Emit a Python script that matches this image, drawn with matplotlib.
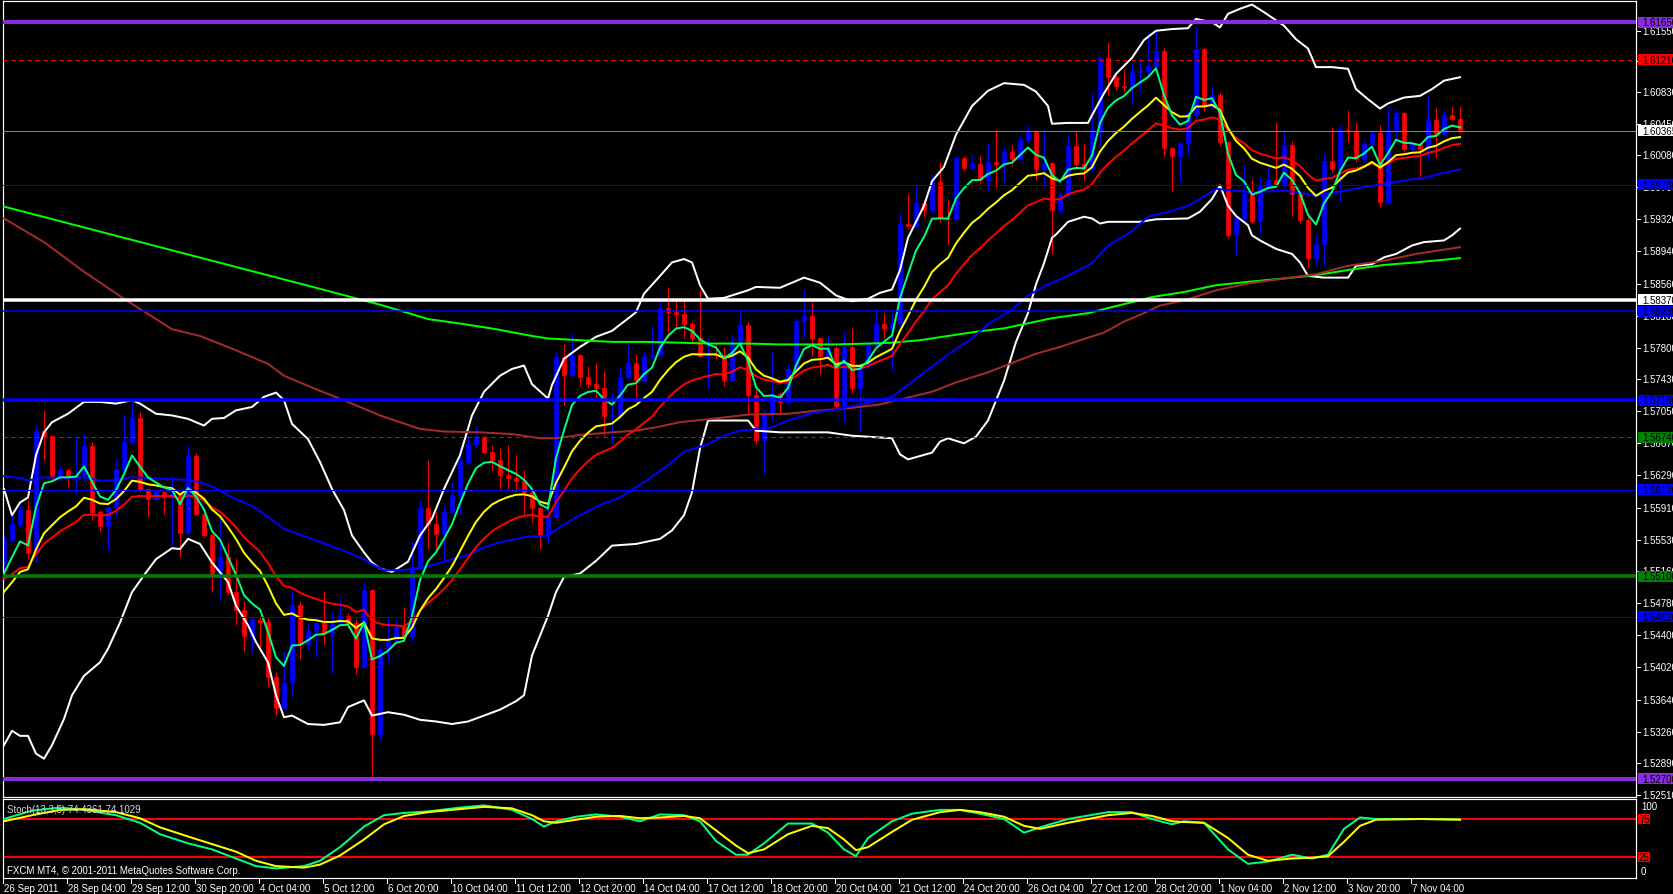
import numpy as np
import matplotlib
matplotlib.use("Agg")
import matplotlib.pyplot as plt
from matplotlib.collections import PolyCollection, LineCollection
from matplotlib.patches import Rectangle
from matplotlib.lines import Line2D
from matplotlib import transforms, font_manager


def has_font(name):
    try:
        font_manager.findfont(font_manager.FontProperties(family=name), fallback_to_default=False)
        return True
    except ValueError:
        return False


# narrow terminal-style lettering; fall back to a smaller regular sans
if has_font('Liberation Sans Narrow'):
    FONT, FS = 'Liberation Sans Narrow', 8
else:
    FONT, FS = 'Liberation Sans', 7
plt.rcParams['font.family'] = [FONT, 'DejaVu Sans']

# ---------------------------------------------------------------- data
# GBPUSD H4 bars, 26 Sep 2011 .. 8 Nov 2011
first_open = 1.5526
close = [
    1.5553, 1.5571, 1.5588, 1.5537, 1.5682, 1.5676, 1.5627, 1.5636, 1.5627, 1.5629,
    1.5664, 1.5586, 1.5569, 1.5592, 1.5635, 1.5668, 1.5697, 1.5613, 1.5601, 1.5609,
    1.5603, 1.5607, 1.5561, 1.5652, 1.5584, 1.5558, 1.5512, 1.5533, 1.5491, 1.5470,
    1.5439, 1.5458, 1.5456, 1.5391, 1.5354, 1.5383, 1.5476, 1.5430, 1.5445, 1.5454,
    1.5443, 1.5456, 1.5463, 1.5454, 1.5403, 1.5494, 1.5323, 1.5424, 1.5434, 1.5450,
    1.5438, 1.5521, 1.5590, 1.5572, 1.5560, 1.5586, 1.5606, 1.5645, 1.5666, 1.5674,
    1.5657, 1.5647, 1.5630, 1.5626, 1.5622, 1.5610, 1.5591, 1.5559, 1.5580, 1.5769,
    1.5748, 1.5772, 1.5745, 1.5737, 1.5732, 1.5699, 1.5700, 1.5745, 1.5762, 1.5742,
    1.5770, 1.5772, 1.5827, 1.5822, 1.5820, 1.5808, 1.5791, 1.5770, 1.5773, 1.5772,
    1.5742, 1.5787, 1.5807, 1.5724, 1.5671, 1.5702, 1.5725, 1.5716, 1.5755, 1.5812,
    1.5818, 1.5792, 1.5770, 1.5780, 1.5711, 1.5781, 1.5732, 1.5758, 1.5785, 1.5808,
    1.5803, 1.5809, 1.5927, 1.5924, 1.5951, 1.5943, 1.5976, 1.5934, 1.5932, 1.6005,
    1.5993, 1.5997, 1.5979, 1.6000, 1.5997, 1.6012, 1.6003, 1.6026, 1.6035, 1.5991,
    1.5998, 1.5943, 1.5961, 1.6019, 1.5997, 1.5991, 1.6038, 1.6123, 1.6100, 1.6090,
    1.6088, 1.6106, 1.6107, 1.6113, 1.6131, 1.6016, 1.6007, 1.6022, 1.6057, 1.6134,
    1.6066, 1.6079, 1.6023, 1.5913, 1.5934, 1.5962, 1.5930, 1.5971, 1.5978, 1.5974,
    1.6020, 1.5962, 1.5931, 1.5886, 1.5903, 1.6001, 1.5992, 1.6038, 1.6037, 1.6003,
    1.6021, 1.6034, 1.5953, 1.6038, 1.6058, 1.6015, 1.6021, 1.6015, 1.6049, 1.6033,
    1.6055, 1.6051, 1.60365,
]
high = [
    1.5560, 1.5582, 1.5594, 1.5599, 1.5689, 1.5706, 1.5672, 1.5641, 1.5638, 1.5674,
    1.5678, 1.5668, 1.5588, 1.5597, 1.5649, 1.5702, 1.5716, 1.5704, 1.5614, 1.5611,
    1.5610, 1.5629, 1.5607, 1.5665, 1.5655, 1.5574, 1.5561, 1.5578, 1.5550, 1.5531,
    1.5481, 1.5462, 1.5463, 1.5460, 1.5397, 1.5423, 1.5494, 1.5480, 1.5456, 1.5460,
    1.5492, 1.5468, 1.5484, 1.5466, 1.5459, 1.5502, 1.5495, 1.5428, 1.5460, 1.5459,
    1.5473, 1.5552, 1.5600, 1.5647, 1.5586, 1.5594, 1.5621, 1.5661, 1.5676, 1.5688,
    1.5676, 1.5665, 1.5661, 1.5665, 1.5653, 1.5635, 1.5613, 1.5593, 1.5593, 1.5775,
    1.5785, 1.5798, 1.5773, 1.5759, 1.5762, 1.5752, 1.5728, 1.5757, 1.5785, 1.5773,
    1.5775, 1.5806, 1.5840, 1.5852, 1.5836, 1.5836, 1.5812, 1.5848, 1.5792, 1.5783,
    1.5781, 1.5796, 1.5822, 1.5811, 1.5731, 1.5708, 1.5775, 1.5728, 1.5760, 1.5815,
    1.5848, 1.5834, 1.5793, 1.5795, 1.5782, 1.5800, 1.5804, 1.5762, 1.5787, 1.5825,
    1.5821, 1.5821, 1.5939, 1.5962, 1.5973, 1.5955, 1.5985, 1.6000, 1.5956, 1.6008,
    1.6007, 1.6008, 1.6007, 1.6022, 1.6038, 1.6019, 1.6020, 1.6032, 1.6043, 1.6036,
    1.6036, 1.6000, 1.5965, 1.6032, 1.6035, 1.6022, 1.6082, 1.6125, 1.6142, 1.6104,
    1.6108, 1.6117, 1.6123, 1.6152, 1.6155, 1.6135, 1.6016, 1.6025, 1.6060, 1.6161,
    1.6136, 1.6090, 1.6082, 1.6025, 1.5938, 1.5996, 1.5980, 1.5982, 1.5995, 1.6047,
    1.6037, 1.6025, 1.5966, 1.5935, 1.5915, 1.6010, 1.6041, 1.6045, 1.6061, 1.6047,
    1.6025, 1.6037, 1.6044, 1.6065, 1.6062, 1.6059, 1.6024, 1.6022, 1.6078, 1.6064,
    1.6061, 1.6066, 1.6066,
]
low = [
    1.5505, 1.5550, 1.5568, 1.5530, 1.5526, 1.5647, 1.5625, 1.5623, 1.5615, 1.5607,
    1.5623, 1.5576, 1.5563, 1.5541, 1.5580, 1.5633, 1.5666, 1.5609, 1.5580, 1.5600,
    1.5584, 1.5546, 1.5532, 1.5560, 1.5582, 1.5556, 1.5491, 1.5483, 1.5489, 1.5452,
    1.5421, 1.5420, 1.5422, 1.5379, 1.5346, 1.5353, 1.5369, 1.5412, 1.5422, 1.5414,
    1.5428, 1.5394, 1.5454, 1.5448, 1.5394, 1.5402, 1.5274, 1.5316, 1.5408, 1.5436,
    1.5436, 1.5432, 1.5519, 1.5542, 1.5542, 1.5527, 1.5586, 1.5582, 1.5641, 1.5661,
    1.5655, 1.5635, 1.5613, 1.5613, 1.5611, 1.5583, 1.5574, 1.5542, 1.5548, 1.5578,
    1.5712, 1.5745, 1.5735, 1.5732, 1.5722, 1.5676, 1.5667, 1.5698, 1.5743, 1.5722,
    1.5739, 1.5767, 1.5769, 1.5791, 1.5802, 1.5792, 1.5785, 1.5769, 1.5731, 1.5767,
    1.5735, 1.5741, 1.5785, 1.5700, 1.5666, 1.5631, 1.5694, 1.5700, 1.5712, 1.5750,
    1.5791, 1.5770, 1.5749, 1.5765, 1.5709, 1.5692, 1.5726, 1.5682, 1.5755, 1.5782,
    1.5791, 1.5753, 1.5805, 1.5922, 1.5920, 1.5935, 1.5939, 1.5929, 1.5901, 1.5930,
    1.5990, 1.5992, 1.5975, 1.5965, 1.5969, 1.5975, 1.5995, 1.6000, 1.6024, 1.5979,
    1.5971, 1.5891, 1.5939, 1.5958, 1.5995, 1.5977, 1.5988, 1.6019, 1.6079, 1.6085,
    1.6083, 1.6070, 1.6083, 1.6102, 1.6110, 1.6007, 1.5965, 1.5976, 1.6008, 1.6052,
    1.6060, 1.6062, 1.6020, 1.5910, 1.5890, 1.5930, 1.5928, 1.5915, 1.5968, 1.5970,
    1.5970, 1.5936, 1.5928, 1.5875, 1.5877, 1.5877, 1.5988, 1.5952, 1.6023, 1.6000,
    1.6000, 1.6018, 1.5946, 1.5950, 1.6025, 1.6012, 1.6012, 1.5982, 1.6001, 1.6004,
    1.6031, 1.6048, 1.6034,
]

# EMA(5), EMA(13), EMA(21) values carried in from the bar before the first one
ema_fast_prev, ema_mid_prev, ema_slow_prev = 1.5493, 1.5481, 1.5502

# Bollinger bands (20, 2): bar position, price
bb_up_bar = [0, 1, 2, 3, 4, 5, 6, 8, 10, 12, 14, 16, 17, 19, 21, 23, 25, 26, 27.5, 29, 31, 32.5, 34, 35, 36,
             38, 39.5, 41, 42.5, 43.5, 45, 46, 47, 48.5, 50.5, 52, 53.5, 55, 57, 58.5, 60, 62, 63.5, 65, 66,
             68, 68.5, 70, 72, 74, 76, 79, 80, 82, 83.5, 85, 86, 87, 88, 90, 91, 93, 94, 97, 98, 100, 102,
             104, 106, 108, 109.5, 111, 112, 113, 115, 116, 117.5, 119, 121, 123, 125, 127.5, 129, 130.5,
             131, 133, 135.5, 136, 137.5, 139, 141, 142.5, 144, 146, 148, 149, 151, 152, 153, 154.5, 156,
             157.5, 160, 161.5, 163, 164, 166, 168, 169, 170.5, 172, 173, 175, 177, 178.5, 180, 182]
bb_up = [1.5613, 1.5582, 1.5597, 1.5603, 1.5653, 1.5680, 1.5692, 1.5702, 1.5716, 1.5716, 1.5714, 1.5718,
         1.5714, 1.5702, 1.5700, 1.5696, 1.5688, 1.5696, 1.5697, 1.5706, 1.5710, 1.5722, 1.5727, 1.5718,
         1.5690, 1.5672, 1.5645, 1.5613, 1.5588, 1.5558, 1.5538, 1.5526, 1.5519, 1.5515, 1.5527, 1.5558,
         1.5578, 1.5613, 1.5653, 1.5700, 1.5728, 1.5747, 1.5755, 1.5759, 1.5737, 1.5720, 1.5736, 1.5767,
         1.5781, 1.5793, 1.5800, 1.5822, 1.5844, 1.5865, 1.5881, 1.5885, 1.5881, 1.5854, 1.5838, 1.5839,
         1.5842, 1.5848, 1.5852, 1.5851, 1.5855, 1.5863, 1.5857, 1.5842, 1.5835, 1.5838, 1.5845, 1.5849,
         1.5872, 1.5910, 1.5948, 1.5977, 1.5994, 1.6032, 1.6066, 1.6084, 1.6093, 1.6091, 1.6083, 1.6066,
         1.6045, 1.6046, 1.6046, 1.6055, 1.6081, 1.6104, 1.6123, 1.6144, 1.6155, 1.6157, 1.6158, 1.6169,
         1.6165, 1.6159, 1.6175, 1.6181, 1.6186, 1.6177, 1.6161, 1.6145, 1.6134, 1.6112, 1.6112, 1.6110,
         1.6086, 1.6074, 1.6063, 1.6069, 1.6076, 1.6078, 1.6086, 1.6096, 1.6100]
bb_dn_bar = [0, 1, 2, 3, 4, 5, 6, 7.5, 8.5, 10, 12, 13, 14.5, 16, 17.5, 19, 21, 22, 23, 24.5, 26, 28, 29,
             30.5, 31.5, 33, 34, 35, 36, 38, 40, 42, 43, 45, 46, 47, 48, 50, 52, 54, 56, 58, 60, 62, 64,
             65, 66, 68, 69, 70, 72, 74, 76, 79, 80, 82, 83.5, 85, 86, 87, 88, 93, 94, 97, 103, 106, 111,
             112, 113, 116, 117, 118, 120, 121.5, 123, 125, 126.5, 128, 129, 130, 131, 131.5, 133, 135,
             136, 137, 138, 142, 144, 148, 149.5, 151, 152, 153, 154, 155.5, 156, 157, 159, 161, 162, 163,
             165, 168, 169, 171, 172.5, 174, 176, 177.5, 180, 181, 182]
bb_dn = [1.5310, 1.5327, 1.5321, 1.5321, 1.5300, 1.5294, 1.5310, 1.5341, 1.5369, 1.5392, 1.5408, 1.5424,
         1.5455, 1.5491, 1.5511, 1.5530, 1.5543, 1.5542, 1.5554, 1.5548, 1.5526, 1.5503, 1.5475, 1.5452,
         1.5432, 1.5408, 1.5369, 1.5343, 1.5345, 1.5335, 1.5334, 1.5337, 1.5355, 1.5363, 1.5345, 1.5347,
         1.5349, 1.5346, 1.5340, 1.5338, 1.5335, 1.5338, 1.5345, 1.5352, 1.5362, 1.5369, 1.5416, 1.5463,
         1.5491, 1.5509, 1.5513, 1.5528, 1.5546, 1.5548, 1.5550, 1.5554, 1.5564, 1.5582, 1.5609, 1.5661,
         1.5694, 1.5694, 1.5682, 1.5680, 1.5680, 1.5676, 1.5673, 1.5654, 1.5648, 1.5656, 1.5669, 1.5673,
         1.5667, 1.5675, 1.5694, 1.5741, 1.5787, 1.5821, 1.5855, 1.5880, 1.5910, 1.5914, 1.5929, 1.5935,
         1.5933, 1.5927, 1.5929, 1.5929, 1.5932, 1.5933, 1.5941, 1.5956, 1.5972, 1.5948, 1.5936, 1.5925,
         1.5913, 1.5907, 1.5897, 1.5891, 1.5881, 1.5865, 1.5863, 1.5863, 1.5877, 1.5879, 1.5887, 1.5891,
         1.5901, 1.5905, 1.5907, 1.5913, 1.5921]

# EMA(55) - blue
ma55_bar = [0, 2, 3, 5, 8, 10, 12, 14, 16, 18, 20, 22.5, 24.5, 26.5, 28.5, 31, 33, 35, 37, 39, 41, 43, 45,
            46, 47.5, 49.5, 52.5, 55, 58, 59.5, 62, 65, 68, 69.5, 72, 74.5, 77, 80, 83, 85, 88, 90, 92, 96,
            98, 101, 104, 108, 111, 113, 116, 118, 121, 123, 126, 128, 130.5, 132.5, 136, 138, 141, 143,
            146, 148, 149.5, 151.5, 153.5, 156, 160, 163, 164, 166.5, 170, 172.5, 175, 178, 180, 182]
ma55 = [1.5628, 1.5626, 1.5623, 1.5627, 1.5626, 1.5627, 1.5623, 1.5623, 1.5627, 1.5626, 1.5625, 1.5624,
        1.5621, 1.5614, 1.5603, 1.5593, 1.5580, 1.5566, 1.5559, 1.5552, 1.5545, 1.5538, 1.5530, 1.5524,
        1.5517, 1.5517, 1.5520, 1.5527, 1.5535, 1.5542, 1.5550, 1.5556, 1.5558, 1.5568, 1.5582, 1.5594,
        1.5603, 1.5621, 1.5641, 1.5657, 1.5666, 1.5676, 1.5682, 1.5686, 1.5694, 1.5703, 1.5707, 1.5715,
        1.5722, 1.5736, 1.5758, 1.5772, 1.5791, 1.5808, 1.5825, 1.5842, 1.5855, 1.5863, 1.5880, 1.5901,
        1.5918, 1.5935, 1.5942, 1.5948, 1.5956, 1.5968, 1.5966, 1.5964, 1.5966, 1.5962, 1.5960, 1.5964,
        1.5970, 1.5974, 1.5978, 1.5982, 1.5987, 1.5991]

# SMA(200) - brown
ma200_bar = [0, 5, 10, 15, 21, 24.5, 28.5, 33, 35, 39, 43, 47, 49.5, 52, 55, 59.5, 63.5, 67, 69, 72, 76, 79,
             81.5, 84.5, 88.5, 93, 98, 101, 106, 109.5, 112.5, 116, 119, 123, 126, 129, 132, 135.5, 137.5,
             140, 142.5, 144.5, 147.5, 151.5, 155.5, 160, 164, 168, 172.5, 176.5, 182]
ma200 = [1.5933, 1.5905, 1.5870, 1.5838, 1.5802, 1.5794, 1.5779, 1.5761, 1.5747, 1.5731, 1.5716, 1.5700,
         1.5692, 1.5684, 1.5681, 1.5680, 1.5678, 1.5673, 1.5673, 1.5677, 1.5680, 1.5682, 1.5686, 1.5692,
         1.5696, 1.5701, 1.5702, 1.5705, 1.5709, 1.5713, 1.5720, 1.5728, 1.5739, 1.5751, 1.5762, 1.5773,
         1.5781, 1.5792, 1.5798, 1.5811, 1.5821, 1.5830, 1.5836, 1.5848, 1.5856, 1.5862, 1.5867, 1.5877,
         1.5883, 1.5891, 1.5899]

# EMA(365) - lime
ma365_bar = [0, 13, 26, 39, 47, 49.5, 53, 57.5, 61.5, 66, 68, 72, 76, 80, 84.5, 88.5, 93, 97, 104, 108,
             111, 114.5, 118, 121.5, 125, 127.5, 131, 135.5, 138, 141, 143.5, 147.5, 151.5, 155.5, 160,
             164, 168, 172.5, 176.5, 182]
ma365 = [1.5947, 1.5915, 1.5883, 1.5851, 1.5831, 1.5824, 1.5814, 1.5808, 1.5802, 1.5794, 1.5791, 1.5789,
         1.5787, 1.5787, 1.5786, 1.5785, 1.5785, 1.5784, 1.5784, 1.5785, 1.5786, 1.5789, 1.5794, 1.5799,
         1.5803, 1.5808, 1.5815, 1.5821, 1.5827, 1.5834, 1.5840, 1.5846, 1.5854, 1.5858, 1.5862, 1.5866,
         1.5872, 1.5878, 1.5881, 1.5886]

# Stochastic (13,3,5)
stoch_bar = [0, 3.5, 7, 10, 14, 17, 19.5, 23, 26, 29, 31.5, 34, 37.5, 39.5, 42, 45, 47.5, 50, 53, 57,
             60, 63.5, 66, 67.5, 69, 71.5, 74, 77, 79.5, 82, 85, 87, 89, 91.5, 93, 95, 98, 101, 103, 105,
             106.5, 108, 111, 113.5, 117, 119.5, 122, 125, 127.5, 129.5, 133, 138, 141, 143.5, 146, 147.5,
             150, 153, 155.5, 158, 161, 163.5, 165.5, 167.5, 169.5, 171.5, 177, 182]
stoch_main = [75, 86, 90, 87, 80, 70, 55, 43, 35, 23, 13, 10, 13, 20, 38, 65, 80, 83, 85, 90,
              93, 87, 75, 65, 72, 78, 81, 78, 72, 81, 80, 72, 46, 28, 28, 43, 69, 69, 57, 35,
              26, 50, 72, 82, 87, 87, 82, 75, 57, 64, 75, 84, 84, 75, 68, 72, 70, 35, 16, 19,
              28, 23, 28, 62, 77, 75, 75, 74.4361]
stoch_signal = [72, 80, 87, 88, 84, 76, 64, 52, 42, 32, 20, 13, 11, 15, 27, 48, 68, 79, 84, 88,
                91, 89, 80, 72, 70, 74, 78, 79, 76, 77, 79, 76, 60, 40, 30, 35, 55, 66, 63, 48,
                34, 38, 58, 74, 84, 87, 84, 78, 66, 62, 70, 80, 83, 79, 72, 71, 70, 50, 28, 20,
                23, 24, 26, 45, 66, 74, 75, 74.1029]
stoch_levels = [75, 25]

# Horizontal levels: price, colour, width(px), style
levels = [
    (1.61650, '#8A2BE2', 4.0, '-'),
    (1.61210, '#FF0000', 1.0, '--'),
    (1.60365, '#778899', 1.0, '-'),
    (1.59730, '#0000FF', 1.0, '-'),
    (1.58370, '#FFFFFF', 3.5, '-'),
    (1.58230, '#0000FF', 1.5, '-'),
    (1.57180, '#0000FF', 3.5, '-'),
    (1.56740, '#008000', 1.0, '--'),
    (1.56120, '#0000FF', 1.0, '-'),
    (1.55100, '#008000', 3.5, '-'),
    (1.54620, '#0000FF', 1.0, '-'),
    (1.52700, '#8A2BE2', 4.0, '-'),
]
level_tags = {1.60365: '#FFFFFF', 1.58370: '#FFFFFF'}

price_ticks = [1.61550, 1.61190, 1.60830, 1.60450, 1.60080, 1.59700, 1.59320, 1.58940, 1.58560,
               1.58180, 1.57800, 1.57430, 1.57050, 1.56670, 1.56290, 1.55910, 1.55530, 1.55160,
               1.54780, 1.54400, 1.54020, 1.53640, 1.53260, 1.52890, 1.52510]

time_labels = ['26 Sep 2011', '28 Sep 04:00', '29 Sep 12:00', '30 Sep 20:00', '4 Oct 04:00',
               '5 Oct 12:00', '6 Oct 20:00', '10 Oct 04:00', '11 Oct 12:00', '12 Oct 20:00',
               '14 Oct 04:00', '17 Oct 12:00', '18 Oct 20:00', '20 Oct 04:00', '21 Oct 12:00',
               '24 Oct 20:00', '26 Oct 04:00', '27 Oct 12:00', '28 Oct 20:00', '1 Nov 04:00',
               '2 Nov 12:00', '3 Nov 20:00', '7 Nov 04:00']
time_label_step = 8  # bars between time labels

# ---------------------------------------------------------------- layout
W, H = 1674, 895
PX = 0.72  # one pixel in points at 100 dpi


def fxp(px):
    return px / W


def fyp(py):
    return 1.0 - py / H


BAR_PX, BAR0_PX = 8.0, 4.0
LEFT, RIGHT = 2.5, 1636.0
MAIN_TOP, MAIN_BOT = 2.3, 798.0
ST_TOP, ST_BOT = 800.0, 879.0
P0, DP = 1.619256, 0.00011828       # price at pixel row 0, price per pixel


def pix_to_price(py):
    return P0 - DP * py


fig = plt.figure(figsize=(W / 100, H / 100), dpi=100, facecolor='black')
ax = fig.add_axes([fxp(LEFT), fyp(MAIN_BOT), (RIGHT - LEFT) / W, (MAIN_BOT - MAIN_TOP) / H])
ax2 = fig.add_axes([fxp(LEFT), fyp(ST_BOT), (RIGHT - LEFT) / W, (ST_BOT - ST_TOP) / H])

xlim = ((LEFT - BAR0_PX) / BAR_PX, (RIGHT - BAR0_PX) / BAR_PX)
for a in (ax, ax2):
    a.set_facecolor('black')
    a.set_xlim(*xlim)
    a.set_xticks([])
    a.set_yticks([])
    for s in a.spines.values():
        s.set_color('white')
        s.set_linewidth(PX * 1.2)
ax.set_ylim(pix_to_price(MAIN_BOT), pix_to_price(MAIN_TOP))
# stochastic scale: 75 at row 820, 25 at row 858
st_k = 50.0 / (858 - 820)
ax2.set_ylim(25 - (ST_BOT - 858) * st_k, 25 + (858 - ST_TOP) * st_k)

# ---------------------------------------------------------------- candles
c = np.array(close)
o = np.r_[first_open, c[:-1]]
h = np.maximum(np.array(high), np.maximum(o, c))
l = np.minimum(np.array(low), np.minimum(o, c))
x = np.arange(len(c))
bull = c >= o
cols = np.where(bull, '#0000FF', '#FF0000')

ax.add_collection(LineCollection([[(xi, lo), (xi, hi)] for xi, lo, hi in zip(x, l, h)],
                                 colors=list(cols), linewidths=PX, zorder=2))
hw = 0.31
bodies = [[(xi - hw, oi), (xi + hw, oi), (xi + hw, ci), (xi - hw, ci)] for xi, oi, ci in zip(x, o, c)]
ax.add_collection(PolyCollection(bodies, facecolors=list(cols), edgecolors=list(cols),
                                 linewidths=0.5, zorder=2.1))


# ---------------------------------------------------------------- indicators
def ema(values, period, prev):
    k = 2.0 / (period + 1)
    out = []
    for v in values:
        prev = prev + k * (v - prev)
        out.append(prev)
    return np.array(out)


LW = PX * 2
ax.plot(bb_up_bar, bb_up, color='white', lw=LW, zorder=3, solid_joinstyle='round')
ax.plot(bb_dn_bar, bb_dn, color='white', lw=LW, zorder=3, solid_joinstyle='round')
ax.plot(ma365_bar, ma365, color='#00FF00', lw=LW, zorder=3)
ax.plot(ma200_bar, ma200, color='#A52A2A', lw=LW, zorder=3)
ax.plot(ma55_bar, ma55, color='#0000FF', lw=LW, zorder=3)
ax.plot(x, ema(c, 21, ema_slow_prev), color='#FF0000', lw=LW, zorder=3.1)
ax.plot(x, ema(c, 13, ema_mid_prev), color='#FFFF00', lw=LW, zorder=3.2)
ax.plot(x, ema(c, 5, ema_fast_prev), color='#00FF7F', lw=LW, zorder=3.3)

for val, col, wpx, ls in levels:
    line = ax.axhline(val, color=col, lw=wpx * PX, zorder=4)
    if ls == '--':
        line.set_dashes((4, 4))

# ---------------------------------------------------------------- price scale
blend = transforms.blended_transform_factory(fig.transFigure, ax.transData)
for v in price_ticks:
    fig.add_artist(Line2D([fxp(RIGHT), fxp(RIGHT + 4)], [v, v], transform=blend,
                          color='white', lw=PX, zorder=5))
    fig.text(fxp(RIGHT + 6), v, f'{v:.5f}', transform=blend, color='white', fontsize=FS,
             va='center', ha='left', zorder=5)

tag_h = 11 * DP
for val, col, wpx, ls in levels:
    face = level_tags.get(val, col)
    fig.add_artist(Rectangle((fxp(RIGHT + 2), val - tag_h / 2), fxp(40), tag_h, transform=blend,
                             facecolor=face, edgecolor='none', zorder=6))
    fig.text(fxp(RIGHT + 6), val, f'{val:.5f}', transform=blend, color='black', fontsize=FS,
             va='center', ha='left', zorder=7)

# ---------------------------------------------------------------- stochastic
ax2.plot(stoch_bar, stoch_main, color='#00FF7F', lw=LW, zorder=3)
ax2.plot(stoch_bar, stoch_signal, color='#FFFF00', lw=LW, zorder=3.1)
for lv in stoch_levels:
    ax2.axhline(lv, color='#FF0000', lw=PX * 2, zorder=2)

blend2 = transforms.blended_transform_factory(fig.transFigure, ax2.transData)
fig.text(fxp(RIGHT + 5), fyp(807), '100', color='white', fontsize=FS, va='center', ha='left')
fig.text(fxp(RIGHT + 5), fyp(872), '0', color='white', fontsize=FS, va='center', ha='left')
for lv in stoch_levels:
    fig.add_artist(Rectangle((fxp(RIGHT + 2), lv - 6.5), fxp(12), 13, transform=blend2,
                             facecolor='#FF0000', edgecolor='none', zorder=6))
    fig.text(fxp(RIGHT + 3), lv, str(lv), transform=blend2, color='black', fontsize=FS,
             va='center', ha='left', zorder=7)

fig.text(fxp(7), fyp(810), f'Stoch(13,3,5) {stoch_main[-1]:.4f} {stoch_signal[-1]:.4f}',
         color='#D8D8D8', fontsize=FS, va='center', ha='left')
fig.text(fxp(7), fyp(871), 'FXCM MT4, \u00a9 2001-2011 MetaQuotes Software Corp.',
         color='white', fontsize=FS, va='center', ha='left')

# ---------------------------------------------------------------- time scale
for k, lab in enumerate(time_labels):
    bx = k * time_label_step
    px = BAR0_PX + bx * BAR_PX - 1
    fig.add_artist(Line2D([fxp(px), fxp(px)], [fyp(ST_BOT), fyp(ST_BOT + 5)],
                          color='white', lw=PX, transform=fig.transFigure))
    fig.text(fxp(px + 1), fyp(889), lab, color='white', fontsize=FS, va='center', ha='left')

fig.savefig('out.png', dpi=100, facecolor='black')
